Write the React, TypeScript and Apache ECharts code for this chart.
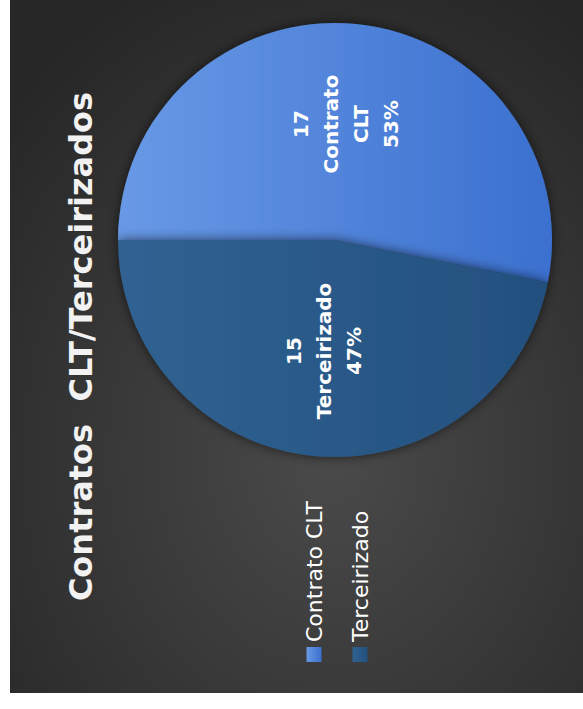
import React, { useEffect, useRef } from "react";
import * as echarts from "echarts";

const categories = ["Contrato CLT", "Terceirizado"];
const values = [17, 15];
const titleText = "Contratos  CLT/Terceirizados";

const sliceColors = [
  ["#6899e6", "#3b70cf"],
  ["#306292", "#23507e"],
];

export default function App() {
  const ref = useRef<HTMLDivElement>(null);
  useEffect(() => {
    if (!ref.current) return;
    const chart = echarts.init(ref.current, undefined, { renderer: "svg" });
    const data = categories.map((name, i) => ({
      name,
      value: values[i],
      itemStyle: {
        color: {
          type: "linear",
          x: 0,
          y: 0,
          x2: 0,
          y2: 1,
          colorStops: [
            { offset: 0, color: sliceColors[i][0] },
            { offset: 1, color: sliceColors[i][1] },
          ],
        },
      },
    }));
    chart.setOption({
      animation: false,
      backgroundColor: {
        type: "radial",
        x: 0.34,
        y: 0.56,
        r: 0.75,
        colorStops: [
          { offset: 0, color: "#4a4a4a" },
          { offset: 1, color: "#272727" },
        ],
      },
      title: {
        text: titleText,
        left: "center",
        top: 55,
        padding: 0,
        textStyle: {
          color: "#f2f2f2",
          fontFamily: "DejaVu Sans",
          fontWeight: "bold",
          fontSize: 32,
        },
      },
      legend: {
        orient: "vertical",
        left: 26,
        top: 288,
        itemWidth: 15,
        itemHeight: 15,
        itemGap: 24,
        icon: "rect",
        data: categories,
        textStyle: {
          color: "#ffffff",
          fontFamily: "DejaVu Sans",
          fontSize: 22,
        },
      },
      series: [
        {
          type: "pie",
          center: [453, 325],
          radius: 217,
          startAngle: 90,
          clockwise: true,
          data,
          label: {
            show: true,
            position: "inside",
            color: "#ffffff",
            fontFamily: "DejaVu Sans",
            fontWeight: "bold",
            fontSize: 20,
            lineHeight: 30,
            formatter: (p: any) =>
              `${p.value}\n${String(p.name).replace(" ", "\n")}\n${Math.round(p.percent)}%`,
          },
          labelLayout: (p: any) => (p.dataIndex === 0 ? { dx: 5 } : {}),
          labelLine: { show: false },
          itemStyle: {
            shadowBlur: 12,
            shadowColor: "rgba(0,0,0,0.6)",
          },
          emphasis: { disabled: true },
        },
      ],
    });
    return () => chart.dispose();
  }, []);

  return (
    <div
      style={{
        position: "absolute",
        left: 0,
        top: 0,
        width: 583,
        height: 709,
        overflow: "hidden",
        background: "#ffffff",
      }}
    >
      <div
        ref={ref}
        style={{
          position: "absolute",
          left: -50,
          top: 60,
          width: 693,
          height: 573,
          transform: "rotate(-90deg)",
          transformOrigin: "50% 50%",
        }}
      />
    </div>
  );
}
